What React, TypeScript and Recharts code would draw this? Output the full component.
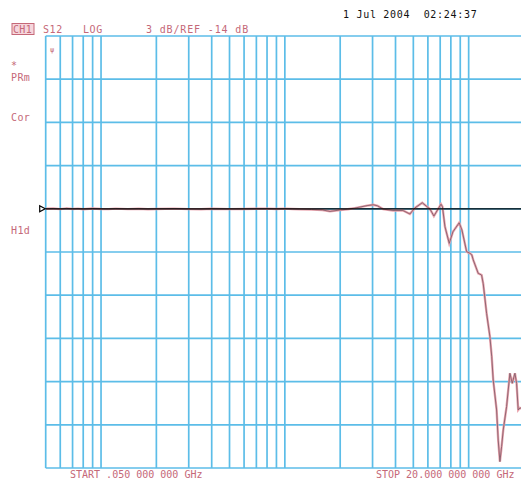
import React from "react";
import { LineChart, Line, XAxis, YAxis, CartesianGrid, ReferenceLine } from "recharts";

// Frequency (GHz) and S12 magnitude (dB)
const freqGHz = [
  0.05, 0.055, 0.06, 0.065, 0.07, 0.075, 0.08, 0.09, 0.1, 0.11, 0.12, 0.14, 0.16, 0.18,
  0.2, 0.25, 0.3, 0.35, 0.4, 0.5, 0.6, 0.7, 0.8, 0.9, 1.0, 1.1, 1.2, 1.4, 1.6, 1.76,
  2.0, 2.2, 2.4, 2.56, 2.8, 3.03, 3.2, 3.42, 3.87, 4.39, 4.79, 5.1, 5.59, 6.16, 6.47,
  7.07, 7.2, 7.43, 7.84, 8.21, 8.88, 9.19, 9.75, 10.16, 10.4, 10.59, 11.27, 11.76, 12.0,
  12.52, 13.05, 13.35, 13.6, 14.19, 14.48, 14.79, 15.11, 15.42, 16.08, 16.76, 17.26,
  17.85, 18.23, 18.6, 19.0, 20.0,
];
const s12dB = [
  -14.0, -13.98, -14.02, -13.97, -14.01, -13.99, -14.03, -13.98, -14.01, -14.02, -13.99, -14.02, -14.0, -14.03,
  -14.01, -13.99, -14.02, -14.03, -14.0, -14.02, -14.01, -14.0, -13.99, -14.01, -13.99, -14.01, -14.03, -14.05, -14.08, -14.18,
  -14.08, -14.03, -13.95, -13.88, -13.78, -13.72, -13.8, -14.02, -14.12, -14.12, -14.36, -13.94, -13.58, -14.02, -14.5,
  -13.68, -13.85, -15.24, -16.4, -15.6, -14.97, -15.47, -16.98, -17.09, -17.2, -17.55, -18.48, -18.6, -19.2,
  -21.26, -22.88, -24.27, -25.89, -27.97, -30.06, -31.56, -30.5, -29.36, -27.74, -25.42, -26.12,
  -25.42, -26.12, -27.97, -27.83, -27.9,
];
const xTicks = [
  0.05, 0.06, 0.07, 0.08, 0.09, 0.1, 0.2, 0.3, 0.4, 0.5, 0.6, 0.7, 0.8, 0.9,
  1, 2, 3, 4, 5, 6, 7, 8, 9, 10, 20,
];
const yTicks = [-32, -29, -26, -23, -20, -17, -14, -11, -8, -5, -2];
const refLevel = -14;

const dateText = "1 Jul 2004  02:24:37";
const headerItems = ["S12", "LOG", "3 dB/REF -14 dB"];
const startText = "START .050 000 000 GHz";
const stopText = "STOP 20.000 000 000 GHz";

const data = freqGHz.map((f, i) => ({ f, v: s12dB[i] }));

const PINK = "#c56878";
const GRID = "#5cbde8";
const MONO = "'DejaVu Sans Mono', 'Liberation Mono', monospace";

const RefMarker = (props: any) => {
  const vb = props.viewBox || {};
  const x = vb.x;
  const y = vb.y;
  if (x == null || y == null) return null;
  return (
    <path
      d={`M ${x - 6} ${y - 3} L ${x - 0.5} ${y} L ${x - 6} ${y + 3} Z`}
      fill="none"
      stroke="#000"
      strokeWidth={1.2}
    />
  );
};

const blank = () => "";

export default function App() {
  return (
    <div
      style={{
        position: "absolute",
        left: 0,
        top: 0,
        width: 521,
        height: 481,
        overflow: "hidden",
        background: "#fff",
      }}
    >
      <LineChart
        width={540}
        height={481}
        data={data}
        margin={{ top: 36, right: 16, bottom: 13, left: 45.7 }}
      >
        <CartesianGrid stroke={GRID} strokeWidth={1.7} horizontal={true} vertical={true} />
        <XAxis
          dataKey="f"
          type="number"
          scale="log"
          domain={[0.05, 20]}
          ticks={xTicks}
          interval={0}
          allowDataOverflow
          tickFormatter={blank}
          tickLine={false}
          axisLine={false}
          height={0}
        />
        <YAxis
          type="number"
          domain={[-32, -2]}
          ticks={yTicks}
          interval={0}
          allowDataOverflow
          tickFormatter={blank}
          tickLine={false}
          axisLine={false}
          width={0}
        />
        <Line dataKey="v" stroke="#eaa4ae" strokeWidth={2.4} dot={false} isAnimationActive={false} />
        <Line dataKey="v" stroke="#85606c" strokeWidth={0.9} dot={false} isAnimationActive={false} />
        <ReferenceLine y={refLevel} stroke="#000" strokeWidth={1.3} label={<RefMarker />} />
      </LineChart>
      <svg
        width={521}
        height={481}
        style={{ position: "absolute", left: 0, top: 0, pointerEvents: "none" }}
      >
        <g fontFamily={MONO} fontSize={10} style={{ whiteSpace: "pre" }}>
          <text x={343} y={17.5} fill="#111" letterSpacing={0.7} xmlSpace="preserve">
            {dateText}
          </text>
          <rect x={12} y={23.5} width={22} height={11} fill="#f6d6dc" stroke={PINK} strokeWidth={1} />
          <text x={13} y={33} fill={PINK} letterSpacing={0.3}>CH1</text>
          <text x={43} y={33} fill={PINK} letterSpacing={0.6}>{headerItems[0]}</text>
          <text x={83} y={33} fill={PINK} letterSpacing={0.6}>{headerItems[1]}</text>
          <text x={146} y={33} fill={PINK} letterSpacing={0.85}>{headerItems[2]}</text>
          <text x={11} y={69} fill={PINK}>*</text>
          <text x={11} y={81} fill={PINK} letterSpacing={0.4}>PRm</text>
          <text x={11} y={121} fill={PINK} letterSpacing={0.4}>Cor</text>
          <text x={11} y={234} fill={PINK} letterSpacing={0.4}>H1d</text>
          <text x={50} y={52} fill={PINK} fontSize={7}>ψ</text>
          <text x={70} y={478} fill={PINK}>{startText}</text>
          <text x={376} y={478} fill={PINK}>{stopText}</text>
        </g>
      </svg>
    </div>
  );
}
